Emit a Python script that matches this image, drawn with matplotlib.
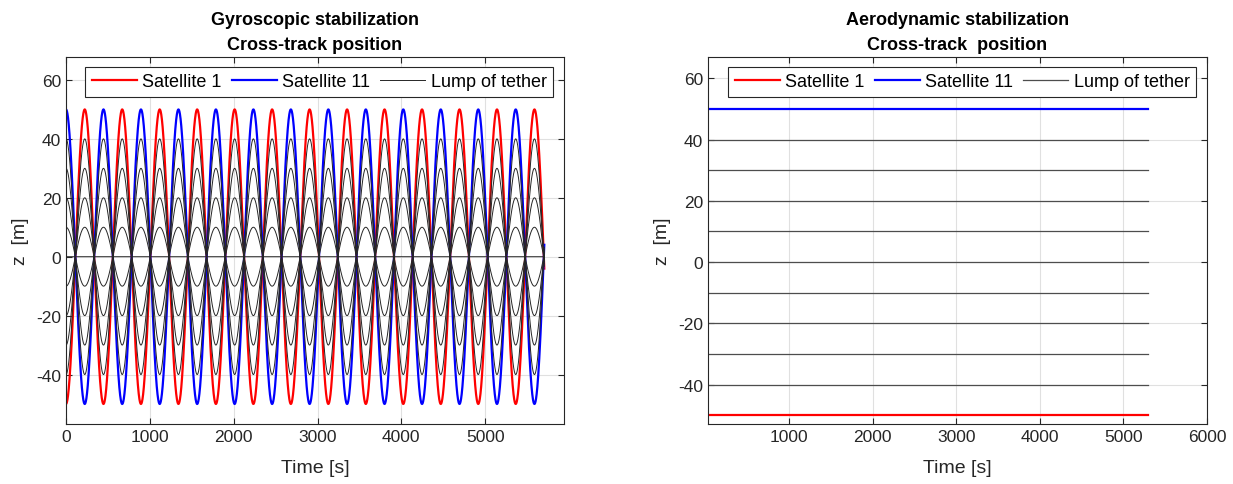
import numpy as np
import matplotlib
matplotlib.use("Agg")
import matplotlib.pyplot as plt

# values
sat_amplitude = 50.0          # satellite 1 starts at -50, satellite 11 at +50
lump_amplitudes = [40, 30, 20, 10, 0, -10, -20, -30, -40]
gyro_period = 447.0           # s, oscillation period (left panel)
gyro_t_end = 5705.0           # s
gyro_xlim = [0, 5940]
gyro_ylim = [-56.8, 67.8]
gyro_xticks = [0, 1000, 2000, 3000, 4000, 5000]

aero_t_start = 30.0
aero_t_end = 5300.0
aero_sat1 = -50.0
aero_sat11 = 50.0
aero_lumps = [40, 30, 20, 10, 0, -10, -20, -30, -40]
aero_xlim = [30, 6000]
aero_ylim = [-52.9, 67.0]
aero_xticks = [1000, 2000, 3000, 4000, 5000, 6000]

yticks = [-40, -20, 0, 20, 40, 60]

plt.rcParams["font.family"] = ["Liberation Sans", "DejaVu Sans"]
plt.rcParams["axes.unicode_minus"] = False

W, H = 1233, 485
fig = plt.figure(figsize=(W / 100, H / 100), dpi=100)

ax1 = fig.add_axes([66 / W, (H - 425) / H, 498 / W, 367 / H])
ax2 = fig.add_axes([708 / W, (H - 425) / H, 499 / W, 367 / H])

# left: gyroscopic stabilization
t = np.linspace(0, gyro_t_end, 6000)
phase = np.cos(2 * np.pi * t / gyro_period)
ax1.plot(t, -sat_amplitude * phase, color="#ff0000", lw=1.6, label="Satellite 1")
ax1.plot(t, sat_amplitude * phase, color="#0000ff", lw=1.6, label="Satellite 11")
for i, a in enumerate(lump_amplitudes):
    ax1.plot(t, a * phase, color="0.15", lw=0.7,
             label="Lump of tether" if i == 0 else None)

# right: aerodynamic stabilization
ta = np.array([aero_t_start, aero_t_end])
ax2.plot(ta, [aero_sat1, aero_sat1], color="#ff0000", lw=1.6, label="Satellite 1")
ax2.plot(ta, [aero_sat11, aero_sat11], color="#0000ff", lw=1.6, label="Satellite 11")
for i, a in enumerate(aero_lumps):
    ax2.plot(ta, [a, a], color="0.3", lw=0.9,
             label="Lump of tether" if i == 0 else None)

titles = ["Gyroscopic stabilization\nCross-track position",
          "Aerodynamic stabilization\nCross-track  position"]
for ax, title, xl, yl, xt in [(ax1, titles[0], gyro_xlim, gyro_ylim, gyro_xticks),
                              (ax2, titles[1], aero_xlim, aero_ylim, aero_xticks)]:
    ax.set_xlim(xl)
    ax.set_ylim(yl)
    ax.set_xticks(xt)
    ax.set_yticks(yticks)
    ax.set_title(title, fontsize=13, fontweight="bold", pad=6, linespacing=1.6)
    ax.set_xlabel("Time [s]", fontsize=14, color="#262626", labelpad=11)
    ax.set_ylabel("z  [m]", fontsize=14, color="#262626", labelpad=5)
    ax.grid(True, color="#e0e0e0", lw=0.8)
    ax.set_axisbelow(True)
    ax.tick_params(direction="in", top=True, right=True, length=4,
                   labelsize=12.5, colors="#262626", width=0.8)
    for s in ax.spines.values():
        s.set_color("#262626")
        s.set_linewidth(0.8)
    leg = ax.legend(loc="upper right", ncol=3, fontsize=13,
                    bbox_to_anchor=(1 - 11 / 498, 1 - 10 / 367),
                    borderaxespad=0, handlelength=2.5, handletextpad=0.3,
                    columnspacing=0.55, borderpad=0.35, fancybox=False,
                    framealpha=1, edgecolor="#262626")
    leg.get_frame().set_linewidth(0.8)

fig.savefig("out.png", dpi=100)
